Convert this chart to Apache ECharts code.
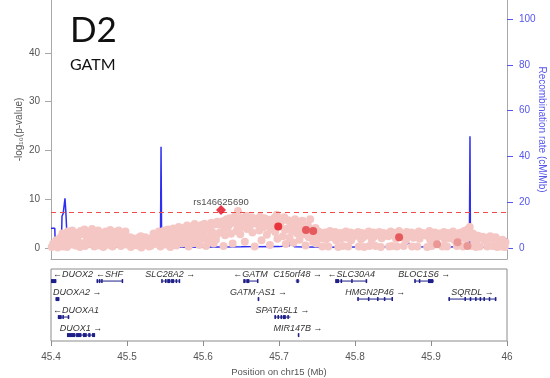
<!DOCTYPE html>
<html>
<head>
<meta charset="utf-8">
<script src="https://cdn.jsdelivr.net/npm/echarts@6.0.0/dist/echarts.min.js"></script>
<style>
  html, body { margin: 0; padding: 0; background: #fff; }
  #chart { width: 550px; height: 378px; }
</style>
</head>
<body>
<div id="chart"></div>
<script>
// Association results around GATM on chr15: [position (Mb), -log10(p)]
const assocPoints = [
  [45.401,0.2],[45.403,0.9],[45.405,0.4],[45.407,1.6],[45.409,0.1],
  [45.411,0.6],[45.412,2.1],[45.414,1.1],[45.415,3.0],[45.416,0.3],[45.418,2.6],[45.419,1.4],
  [45.421,0.2],[45.422,3.4],[45.424,1.9],[45.425,0.7],[45.427,2.8],[45.428,3.6],[45.429,1.2],
  [45.431,2.3],[45.432,0.5],[45.434,3.1],[45.435,1.6],[45.437,2.7],[45.438,0.2],[45.439,3.5],
  [45.441,1.0],[45.442,2.9],[45.444,3.8],[45.445,0.4],[45.447,2.2],[45.448,1.5],[45.449,3.3],
  [45.451,0.8],[45.452,2.6],[45.454,3.9],[45.455,1.8],[45.457,0.3],[45.458,3.2],[45.459,2.0],
  [45.461,1.2],[45.462,3.6],[45.464,0.5],[45.465,2.4],[45.467,3.0],[45.468,1.4],[45.469,0.2],
  [45.471,2.9],[45.472,3.4],[45.474,1.0],[45.475,2.1],[45.477,0.6],[45.478,3.7],[45.479,1.7],
  [45.481,0.3],[45.482,2.5],[45.484,3.3],[45.485,1.3],[45.487,2.8],[45.488,0.8],[45.489,3.6],
  [45.491,1.9],[45.492,0.4],[45.494,3.0],[45.495,2.3],[45.497,1.1],[45.498,3.4],[45.499,0.7],
  [45.501,1.7],[45.502,1.5],[45.504,2.2],[45.505,0.2],[45.507,2.0],[45.508,0.5],[45.509,0.9],
  [45.511,1.7],[45.512,0.9],[45.514,0.5],[45.515,2.1],[45.517,1.2],[45.518,2.4],[45.519,0.1],
  [45.521,1.3],[45.522,1.0],[45.524,2.2],[45.525,0.6],[45.527,1.8],[45.528,1.6],[45.529,0.3],
  [45.531,0.4],[45.532,2.0],[45.534,1.3],[45.535,3.0],[45.537,0.8],[45.538,1.9],[45.539,2.6],
  [45.541,1.1],[45.542,3.4],[45.544,0.3],[45.545,2.1],[45.547,2.9],[45.548,1.4],[45.549,3.6],
  [45.551,0.7],[45.552,2.3],[45.554,3.8],[45.555,1.6],[45.557,0.2],[45.558,3.1],[45.559,2.0],
  [45.561,4.0],[45.562,1.2],[45.564,2.7],[45.565,0.5],[45.567,3.5],[45.568,4.3],[45.569,1.8],
  [45.571,2.9],[45.572,0.9],[45.574,4.1],[45.575,3.2],[45.577,1.4],[45.578,2.4],[45.579,4.6],
  [45.581,0.3],[45.582,3.7],[45.584,2.1],[45.585,4.4],[45.587,1.0],[45.588,3.0],[45.589,4.9],
  [45.591,1.6],[45.592,4.2],[45.594,2.6],[45.595,0.6],[45.597,3.4],[45.598,4.7],[45.599,1.9],
  [45.601,2.8],[45.602,5.0],[45.604,0.4],[45.605,3.9],[45.607,1.3],[45.608,4.5],[45.609,2.3],
  [45.611,5.2],[45.612,3.3],[45.614,0.9],[45.615,4.8],[45.617,1.7],[45.618,2.7],[45.619,5.4],
  [45.621,4.8],[45.622,3.2],[45.626,5.5],[45.627,0.4],[45.628,4.1],[45.629,2.6],
  [45.631,5.9],[45.632,3.7],[45.634,4.6],[45.635,6.1],[45.637,2.9],[45.638,5.2],[45.639,0.9],
  [45.641,5.4],[45.642,6.5],[45.644,3.5],[45.645,4.7],[45.646,7.6],[45.647,5.8],[45.649,2.8],
  [45.651,6.2],[45.652,4.3],[45.654,5.6],[45.655,1.3],[45.657,6.6],[45.658,3.9],[45.659,5.1],
  [45.661,5.9],[45.662,4.6],[45.664,6.3],[45.665,3.2],[45.667,5.3],[45.668,0.3],[45.669,6.0],
  [45.671,4.9],[45.672,5.7],[45.674,3.6],[45.675,6.4],[45.677,1.6],[45.678,5.0],[45.679,4.2],
  [45.681,6.1],[45.682,5.4],[45.684,2.7],[45.685,4.5],[45.687,5.8],[45.688,0.6],[45.689,3.8],
  [45.691,5.5],[45.692,4.8],[45.694,6.2],[45.695,3.3],[45.697,6.8],[45.698,1.9],[45.699,5.1],
  [45.701,6.0],[45.702,4.4],[45.704,5.6],[45.705,2.4],[45.707,6.3],[45.708,3.7],[45.709,0.8],
  [45.711,4.0],[45.712,5.7],[45.714,2.1],[45.715,5.2],[45.717,3.4],[45.718,4.6],[45.719,1.1],
  [45.721,5.9],[45.722,4.1],[45.724,3.0],[45.725,4.8],[45.727,1.7],[45.728,3.6],[45.729,5.5],
  [45.731,5.6],[45.732,2.8],[45.734,4.2],[45.735,0.5],[45.737,3.3],[45.738,4.6],[45.739,2.2],
  [45.741,5.9],[45.742,3.9],[45.744,2.5],[45.745,1.3],[45.747,3.0],[45.748,4.1],[45.749,0.9],
  [45.751,2.6],[45.752,3.4],[45.755,2.0],[45.757,0.3],[45.758,3.1],[45.759,2.4],
  [45.761,3.2],[45.762,1.8],[45.764,2.7],[45.765,0.3],[45.767,3.5],[45.768,2.2],
  [45.771,2.9],[45.774,3.3],[45.775,1.6],[45.777,2.4],[45.778,0.2],[45.779,3.0],
  [45.781,1.9],[45.782,3.1],[45.784,0.4],[45.785,2.6],[45.788,3.4],[45.789,2.1],
  [45.791,0.3],[45.792,2.8],[45.794,3.2],[45.795,1.6],[45.797,2.3],[45.799,3.0],
  [45.801,2.5],[45.804,3.3],[45.805,0.3],[45.807,2.9],[45.808,1.8],[45.809,3.1],
  [45.811,2.2],[45.812,0.2],[45.814,3.0],[45.815,2.6],[45.818,3.4],[45.819,0.4],
  [45.821,2.9],[45.822,1.7],[45.824,3.2],[45.825,2.3],[45.827,0.4],[45.828,3.0],
  [45.831,2.7],[45.832,3.3],[45.834,0.2],[45.835,2.0],[45.837,3.1],[45.839,2.5],
  [45.842,3.0],[45.844,2.4],[45.845,0.3],[45.847,3.4],[45.848,2.8],[45.849,0.4],
  [45.851,2.6],[45.852,3.1],[45.854,1.9],[45.855,0.3],[45.857,2.9],[45.858,3.5],
  [45.861,3.0],[45.862,2.2],[45.864,0.4],[45.865,2.8],[45.867,1.6],[45.868,3.3],[45.869,2.4],
  [45.872,2.9],[45.874,3.2],[45.875,0.3],[45.877,2.1],[45.879,3.0],
  [45.881,2.5],[45.882,0.3],[45.884,3.4],[45.885,1.9],[45.887,2.7],[45.889,3.1],
  [45.892,2.6],[45.894,3.0],[45.895,0.2],[45.897,2.3],[45.898,3.5],[45.899,1.7],
  [45.901,0.4],[45.902,2.8],[45.904,1.6],[45.905,3.2],[45.907,2.0],[45.909,2.7],
  [45.911,3.0],[45.914,2.4],[45.915,0.3],[45.917,3.3],[45.918,1.8],[45.919,2.6],
  [45.921,0.3],[45.922,3.1],[45.924,2.0],[45.927,2.9],[45.929,3.4],
  [45.931,1.6],[45.932,2.5],[45.934,0.4],[45.935,3.0],[45.937,2.2],[45.939,3.2],
  [45.941,2.7],[45.942,0.3],[45.944,3.5],[45.945,1.9],[45.947,2.4],[45.948,3.8],
  [45.951,4.3],[45.952,2.1],[45.954,0.4],[45.955,3.0],[45.957,1.6],[45.958,2.6],[45.959,0.2],
  [45.961,1.8],[45.962,2.5],[45.964,0.3],[45.965,2.0],[45.968,2.3],
  [45.971,1.5],[45.972,2.1],[45.974,0.3],[45.975,1.8],[45.978,2.4],
  [45.981,0.4],[45.982,1.9],[45.985,2.2],[45.987,0.2],[45.988,1.6],
  [45.991,1.4],[45.992,0.3],[45.994,1.7],[45.997,0.2],[45.998,1.2]
];

// Variants in LD with the lead SNP: [position (Mb), -log10(p), LD class]
const ldPoints = [
  [45.699,4.4,'high'],[45.7355,3.7,'mid'],[45.745,3.5,'mid'],[45.858,2.2,'mid'],
  [45.908,0.75,'low'],[45.935,1.2,'low'],[45.948,0.4,'low']
];

// Lead variant: [rsID, position (Mb), -log10(p)]
const leadSnp = ['rs146625690', 45.6237, 7.8];

// Genome-wide significance line, -log10(5e-8)
const gwsThreshold = 7.3;

// Recombination rate (cM/Mb) along the region: [position (Mb), rate]
const recombRate = [
  [45.400,8.6],[45.405,8.6],[45.4055,2.0],[45.408,0.3],[45.4135,0.5],[45.4145,14.0],
  [45.416,15.0],[45.4184,21.7],[45.4195,16.0],[45.4207,7.5],[45.4215,1.0],[45.425,0.4],
  [45.434,0.5],[45.435,6.5],[45.436,0.5],[45.450,0.3],[45.480,0.4],[45.510,0.3],
  [45.5440,1.0],[45.5448,44.2],[45.5455,5.5],[45.5475,0.3],[45.580,0.3],[45.620,0.4],
  [45.650,0.5],[45.667,0.6],[45.668,2.0],[45.670,0.5],[45.700,0.6],[45.714,1.0],
  [45.7165,5.5],[45.718,2.5],[45.720,0.5],[45.760,0.3],[45.800,0.4],[45.850,0.5],
  [45.866,0.6],[45.870,2.6],[45.874,0.5],[45.910,0.4],[45.9505,0.5],[45.9513,48.8],
  [45.9518,10.0],[45.953,0.4],[45.985,0.3],[45.990,2.8],[45.993,0.5],[45.997,1.5],[46.000,4.2]
];

// Genes: [symbol, start (Mb), end (Mb), strand, track row, exons]
const genes = [
  ['DUOX2',    45.400, 45.407, '-', 0, [[45.400,45.407]]],
  ['SHF',      45.460, 45.494, '-', 0, [[45.460,45.462],[45.463,45.464],[45.466,45.467],[45.493,45.494]]],
  ['SLC28A2',  45.545, 45.569, '+', 0, [[45.545,45.547],[45.550,45.552],[45.553,45.557],[45.558,45.562],[45.564,45.566],[45.568,45.569]]],
  ['GATM',     45.653, 45.672, '-', 0, [[45.653,45.656],[45.657,45.661],[45.671,45.672]]],
  ['C15orf48', 45.722, 45.727, '+', 0, [[45.723,45.726]]],
  ['SLC30A4',  45.774, 45.816, '-', 0, [[45.774,45.779],[45.781,45.783],[45.795,45.796],[45.814,45.815]]],
  ['BLOC1S6',  45.878, 45.904, '+', 0, [[45.878,45.879],[45.884,45.885],[45.896,45.903]]],
  ['DUOXA2',   45.406, 45.411, '+', 1, [[45.406,45.411]]],
  ['GATM-AS1', 45.672, 45.674, '+', 1, [[45.672,45.674]]],
  ['HMGN2P46', 45.803, 45.850, '+', 1, [[45.803,45.805],[45.817,45.818],[45.829,45.830],[45.838,45.839],[45.848,45.850]]],
  ['SQRDL',    45.923, 45.986, '+', 1, [[45.923,45.924],[45.944,45.946],[45.951,45.952],[45.958,45.960],[45.964,45.965],[45.969,45.970],[45.976,45.977],[45.984,45.986]]],
  ['DUOXA1',   45.409, 45.424, '-', 2, [[45.409,45.414],[45.415,45.416],[45.422,45.424]]],
  ['SPATA5L1', 45.694, 45.715, '+', 2, [[45.694,45.696],[45.698,45.700],[45.702,45.703],[45.705,45.709],[45.711,45.713]]],
  ['DUOX1',    45.421, 45.458, '+', 3, [[45.421,45.432],[45.433,45.440],[45.442,45.447],[45.449,45.452],[45.454,45.458]]],
  ['MIR147B',  45.7248, 45.7252, '+', 3, [[45.7248,45.7252]]]
];

// Axis ticks
const posTicks = [45.4, 45.5, 45.6, 45.7, 45.8, 45.9, 46];
const pTicks = [0, 10, 20, 30, 40];
const recTicks = [0, 20, 40, 60, 80, 100];

// ---- styling ----
const FONT = '"Liberation Sans", Arial, sans-serif';
const AXIS_GREY = '#a8a8a8';
const TEXT_GREY = '#555';
const REC_BLUE = '#5656ee';
const GENE_NAVY = '#1f1f8a';
const ldColors = { high: '#e8343c', mid: '#e6595c', low: '#ea9896' };
const geneFont = 'italic 9px ' + FONT;

const measureCtx = document.createElement('canvas').getContext('2d');
measureCtx.font = geneFont;

// Draws one gene: intron line, exon blocks and a strand-arrow label kept inside the track
function renderGene(params, api) {
  const g = genes[api.value(3)];
  const cs = params.coordSys;
  const left = cs.x, right = cs.x + cs.width;
  const xs = Math.max(api.coord([g[1], 0])[0], left);
  const xe = Math.min(api.coord([g[2], 0])[0], right);
  const yBar = api.coord([g[1], g[4] + 0.67])[1];
  const yText = api.coord([g[1], g[4] + 0.33])[1];
  const children = [{
    type: 'line',
    shape: { x1: xs, y1: yBar, x2: Math.max(xe, xs + 1), y2: yBar },
    style: { stroke: GENE_NAVY, lineWidth: 1 }
  }];
  g[5].forEach(function (ex) {
    const a = Math.max(api.coord([ex[0], 0])[0], left);
    const b = Math.min(api.coord([ex[1], 0])[0], right);
    children.push({
      type: 'rect',
      shape: { x: a, y: yBar - 2, width: Math.max(b - a, 1.5), height: 4 },
      style: { fill: GENE_NAVY }
    });
  });
  const label = g[3] === '-' ? '\u2190' + g[0] : g[0] + ' \u2192';
  const w = measureCtx.measureText(label).width;
  const cx = (api.coord([g[1], 0])[0] + api.coord([g[2], 0])[0]) / 2;
  const tx = Math.min(Math.max(cx - w / 2, left + 2), right - w - 2);
  children.push({
    type: 'text',
    style: { text: label, x: tx, y: yText, font: geneFont, fill: '#333', align: 'left', verticalAlign: 'middle' }
  });
  return { type: 'group', children: children };
}

const chart = echarts.init(document.getElementById('chart'), null, { renderer: 'canvas' });

chart.setOption({
  animation: false,
  backgroundColor: '#fff',
  textStyle: { fontFamily: FONT },
  graphic: [
    { type: 'text', left: 70, top: 13, style: { text: 'D2', font: '35px Lato, ' + FONT, fill: '#111' } },
    { type: 'text', left: 70, top: 57, style: { text: 'GATM', font: '16px Lato, ' + FONT, fill: '#111' } }
  ],
  grid: [
    { left: 51, right: 43, top: 0, height: 259, outerBoundsMode: 'none', containLabel: false },
    { left: 51, right: 43, top: 269, height: 72, outerBoundsMode: 'none', containLabel: false,
      show: true, borderColor: '#8c8c8c', borderWidth: 1, backgroundColor: 'transparent' }
  ],
  xAxis: [
    {
      type: 'value', gridIndex: 0, min: 45.4, max: 46,
      axisLine: { show: true, onZero: false, lineStyle: { color: AXIS_GREY } },
      axisTick: { show: false }, axisLabel: { show: false }, splitLine: { show: false }
    },
    {
      type: 'value', gridIndex: 1, min: 45.4, max: 46,
      name: 'Position on chr15 (Mb)', nameLocation: 'middle', nameGap: 26, nameMoveOverlap: false,
      nameTextStyle: { color: TEXT_GREY, fontSize: 9.5, fontFamily: FONT },
      axisLine: { show: false, onZero: false },
      axisTick: { show: true, length: 5, customValues: posTicks, lineStyle: { color: '#8c8c8c' } },
      axisLabel: { show: true, customValues: posTicks, margin: 11, color: TEXT_GREY, fontSize: 10, fontFamily: FONT },
      splitLine: { show: false }
    }
  ],
  yAxis: [
    {
      type: 'value', gridIndex: 0, min: -2.256, max: 50.87,
      name: '-log\u2081\u2080(p-value)', nameLocation: 'middle', nameGap: 27, nameMoveOverlap: false,
      nameTextStyle: { color: TEXT_GREY, fontSize: 10, fontFamily: FONT },
      axisLine: { show: true, onZero: false, lineStyle: { color: AXIS_GREY } },
      axisTick: { show: true, length: 6, customValues: pTicks, lineStyle: { color: AXIS_GREY } },
      axisLabel: { customValues: pTicks, margin: 11, color: TEXT_GREY, fontSize: 10, fontFamily: FONT },
      splitLine: { show: false }
    },
    {
      type: 'value', gridIndex: 0, position: 'right', min: -4.81, max: 108.4,
      name: 'Recombination rate (cM/Mb)', nameLocation: 'middle', nameGap: 30, nameRotate: -90, nameMoveOverlap: false,
      nameTextStyle: { color: REC_BLUE, fontSize: 10, fontFamily: FONT },
      axisLine: { show: true, onZero: false, lineStyle: { color: AXIS_GREY } },
      axisTick: { show: true, length: 6, customValues: recTicks, lineStyle: { color: REC_BLUE } },
      axisLabel: { customValues: recTicks, margin: 12, color: REC_BLUE, fontSize: 10, fontFamily: FONT },
      splitLine: { show: false }
    },
    {
      type: 'value', gridIndex: 1, min: 0, max: 4, inverse: true, show: false
    }
  ],
  series: [
    {
      name: 'Recombination rate', type: 'line', xAxisIndex: 0, yAxisIndex: 1,
      data: recombRate, showSymbol: false, symbol: 'none', z: 2,
      lineStyle: { color: '#2f2ff4', width: 1.5 }
    },
    {
      name: 'Variants', type: 'scatter', xAxisIndex: 0, yAxisIndex: 0,
      data: assocPoints, symbolSize: 8, z: 3,
      itemStyle: { color: '#f5c7c4', opacity: 1 },
      markLine: {
        silent: true, symbol: 'none', label: { show: false },
        lineStyle: { color: '#f04b4b', type: [5, 4], width: 1 },
        data: [{ yAxis: gwsThreshold }]
      }
    },
    {
      name: 'LD variants', type: 'scatter', xAxisIndex: 0, yAxisIndex: 0, z: 4,
      symbolSize: 8,
      data: ldPoints.map(function (p) {
        return { value: [p[0], p[1]], itemStyle: { color: ldColors[p[2]], opacity: 1 } };
      })
    },
    {
      name: 'Lead variant', type: 'scatter', xAxisIndex: 0, yAxisIndex: 0, z: 5,
      symbol: 'diamond', symbolSize: 10,
      itemStyle: { color: '#e1061c' },
      label: {
        show: true, position: 'top', distance: -2, formatter: leadSnp[0],
        color: '#222', fontSize: 9.5, fontFamily: FONT
      },
      data: [[leadSnp[1], leadSnp[2]]]
    },
    {
      name: 'Genes', type: 'custom', xAxisIndex: 1, yAxisIndex: 2,
      renderItem: renderGene, clip: false,
      data: genes.map(function (g, i) { return [g[1], g[2], g[4], i]; }),
      encode: { x: [0, 1], y: 2 }
    }
  ]
});
</script>
</body>
</html>
